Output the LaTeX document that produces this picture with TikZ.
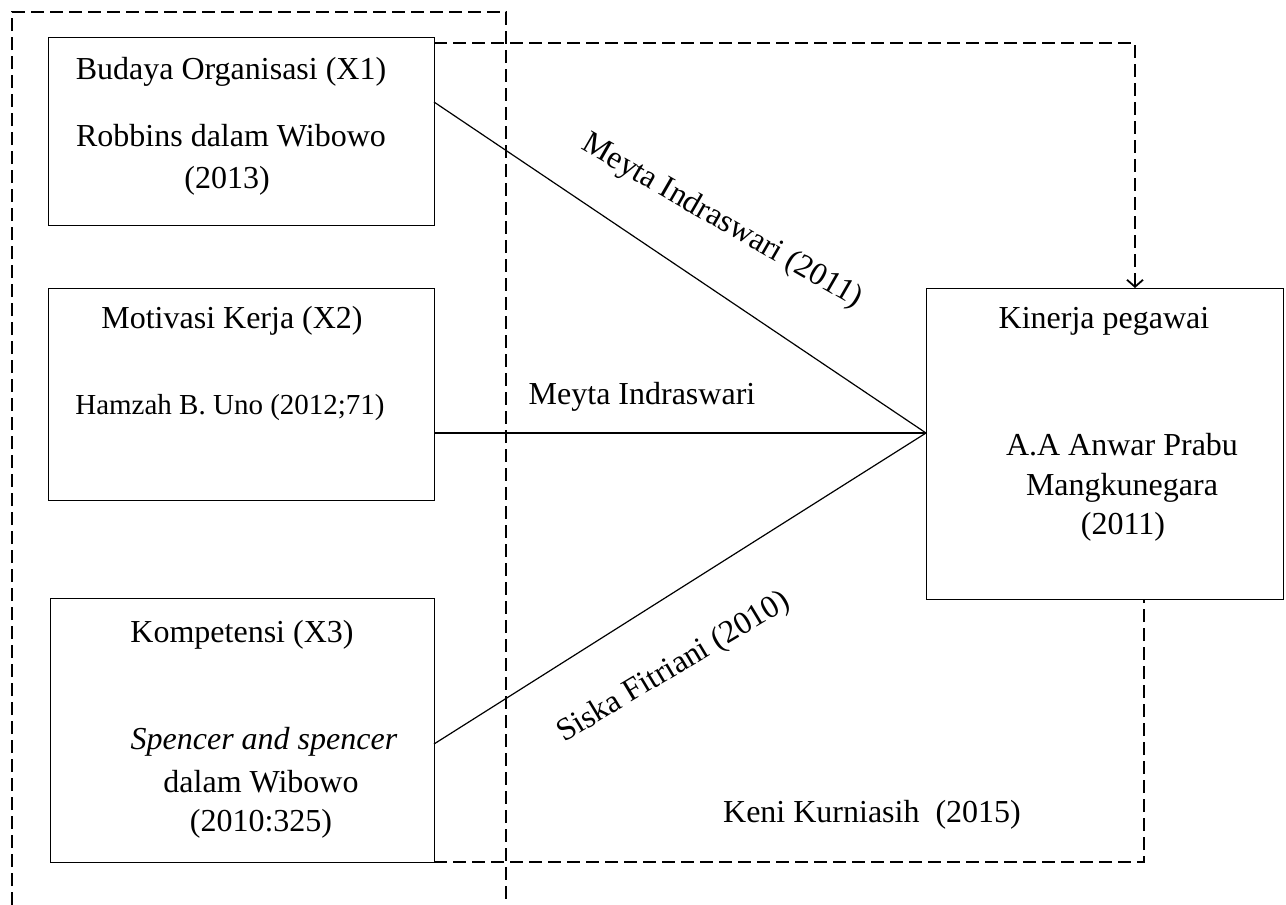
\documentclass[tikz,border=0pt]{standalone}
\usepackage{fontspec}
\setmainfont{Liberation Serif}
\usetikzlibrary{arrows.meta}
\begin{document}
\begin{tikzpicture}[x=1pt,y=-1pt,
  every node/.style={font=\fontsize{32}{40}\selectfont,inner sep=0pt},
  txt/.style={anchor=base},
  box/.style={draw,line width=1.2pt},
  dsh/.style={draw,line width=1.8pt,dash pattern=on 13pt off 6pt},
  conn/.style={draw,line width=1.2pt}]
\useasboundingbox (0,0) rectangle (1286,905);
% outer dashed frame
\draw[dsh] (12,1000) -- (12,12) -- (506,12) -- (506,1000);
% boxes
\node[box,minimum width=386pt,minimum height=188pt,anchor=north west] (x1) at (48,37) {};
\node[box,minimum width=386pt,minimum height=212pt,anchor=north west] (x2) at (48,288) {};
\node[box,minimum width=384pt,minimum height=264pt,anchor=north west] (x3) at (50,598) {};
\node[box,minimum width=357pt,minimum height=311pt,anchor=north west] (y) at (926,288) {};
% texts
\node[txt] (t1a) at (231,79) {Budaya Organisasi (X1)};
\node[txt] (t1b) at (231,146) {Robbins dalam Wibowo};
\node[txt] (t1c) at (227,188) {(2013)};
\node[txt] (t2a) at (232,328) {Motivasi Kerja (X2)};
\node[txt,font=\fontsize{29}{40}\selectfont] (t2b) at (230,414) {Hamzah B. Uno (2012;71)};
\node[txt] (t3a) at (242,642) {Kompetensi (X3)};
\node[txt] (t3b) at (264,749) {\textit{Spencer and spencer}};
\node[txt] (t3c) at (261,792) {dalam Wibowo};
\node[txt] (t3d) at (261,831) {(2010:325)};
\node[txt] (ya) at (1104,328) {Kinerja pegawai};
\node[txt] (yb) at (1122,455) {A.A Anwar Prabu};
\node[txt] (yc) at (1122,495) {Mangkunegara};
\node[txt] (yd) at (1123,534) {(2011)};
% connectors
\coordinate (p) at (926,433);
\draw[conn] (434,102) -- (p);
\draw[conn] (434,433) -- (p);
\draw[conn] (434,744) -- (p);
\node[rotate=-30] (l1) at (722,222) {Meyta Indraswari (2011)};
\node[txt] (l2) at (642,404) {Meyta Indraswari};
\node[rotate=31] (l3) at (674,668) {Siska Fitriani (2010)};
\node[txt] (l4) at (872,822) {Keni Kurniasih\ \ (2015)};
% dashed feedback lines
\draw[dsh,-{Straight Barb[length=7pt,width=16pt]}] (434,43) -- (1135,43) -- (1135,288);
\draw[dsh] (434,862) -- (1144,862) -- (1144,599);
\end{tikzpicture}
\end{document}
